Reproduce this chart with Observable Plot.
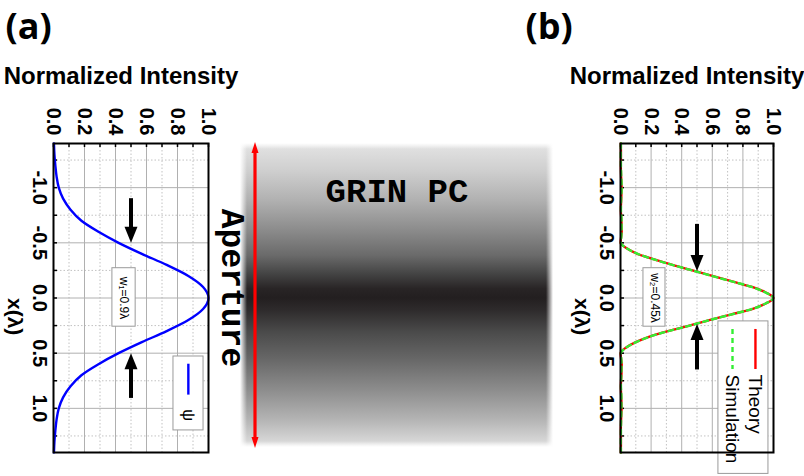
<!DOCTYPE html>
<html><head><meta charset="utf-8">
<script src="https://cdn.jsdelivr.net/npm/d3@7"></script>
<script src="https://cdn.jsdelivr.net/npm/@observablehq/plot@0.6"></script>
<style>
body{margin:0;background:#fff;}
#fig{position:relative;width:804px;height:476px;overflow:hidden;background:#fff;}
#fig > *{position:absolute;left:0;top:0;}
</style></head><body><div id="fig"></div>
<script>
// ---- data ----
const positionA = [-1.4,-1.3,-1.2,-1.1,-1.0,-0.9,-0.8,-0.7,-0.6,-0.5,-0.4,-0.3,-0.2,-0.1,0,0.1,0.2,0.3,0.4,0.5,0.6,0.7,0.8,0.9,1.0,1.1,1.2,1.3,1.4];
const intensityA = [0.003,0.006,0.012,0.02,0.034,0.062,0.11,0.18,0.29,0.42,0.57,0.73,0.87,0.965,1.0,0.965,0.87,0.73,0.57,0.42,0.29,0.18,0.11,0.062,0.034,0.02,0.012,0.006,0.003];

const positionB = [-1.4,-1.3,-1.2,-1.1,-1.0,-0.9,-0.8,-0.7,-0.6,-0.55,-0.5,-0.45,-0.4,-0.35,-0.3,-0.25,-0.2,-0.15,-0.1,-0.05,0,0.05,0.1,0.15,0.2,0.25,0.3,0.35,0.4,0.45,0.5,0.55,0.6,0.7,0.8,0.9,1.0,1.1,1.2,1.3,1.4];
const theoryB = [0.002,0.003,0.002,0.004,0.007,0.005,0.002,0.006,0.008,0.004,0.0,0.04,0.11,0.22,0.34,0.47,0.60,0.73,0.86,0.95,1.0,0.95,0.86,0.72,0.58,0.45,0.31,0.19,0.10,0.035,0.0,0.004,0.008,0.006,0.002,0.005,0.007,0.004,0.002,0.003,0.002];
const simulationB = [0.003,0.002,0.003,0.005,0.008,0.004,0.003,0.007,0.007,0.005,0.002,0.042,0.112,0.218,0.338,0.468,0.598,0.728,0.858,0.948,0.998,0.948,0.858,0.722,0.582,0.452,0.312,0.192,0.102,0.037,0.002,0.005,0.007,0.005,0.003,0.006,0.006,0.004,0.003,0.002,0.003];

const intensityTicks = [0, 0.2, 0.4, 0.6, 0.8, 1.0];
const intensityMinor = [0.1, 0.3, 0.5, 0.7, 0.9];
const positionTicks = [-1.0, -0.5, 0, 0.5, 1.0];
const positionMinor = [-1.25, -0.75, -0.25, 0.25, 0.75, 1.25];

const arrowsA = [{x: 0.5, from: -0.9, to: -0.58, tip: -0.5, dir: "down"}, {x: 0.5, from: 0.91, to: 0.58, tip: 0.5, dir: "up"}];
const arrowsB = [{x: 0.5, from: -0.667, to: -0.33, tip: -0.245, dir: "down"}, {x: 0.5, from: 0.652, to: 0.32, tip: 0.235, dir: "up"}];
const boxA = {x1: 0.38, x2: 0.53, y1: -0.27, y2: 0.26, label: "w\u2081=0.9\u03bb", lx: 0.455};
const boxB = {x1: 0.15, x2: 0.294, y1: -0.27, y2: 0.26, label: "w\u2082=0.45\u03bb", lx: 0.222};

const gradientStops = [[0, "#e4e4e4"], [9, "#cfcfcf"], [19, "#b0b0b0"], [29, "#8a8a8a"], [37, "#6a6a6a"], [43, "#444"], [48, "#282425"], [51, "#231f20"], [55, "#2e2b2c"], [62, "#4a4a4a"], [71, "#676767"], [81, "#8c8c8c"], [91, "#b4b4b4"], [100, "#e0e0e0"]];

// ---- drawing ----
const fig = document.getElementById("fig");
const FT = 143, FB = 452;

// center GRIN PC picture
const grad = document.createElement("div");
Object.assign(grad.style, {left: "240px", top: "143px", width: "313px", height: "304px",
  background: `linear-gradient(to bottom, ${gradientStops.map(([p, c]) => `${c} ${p}%`).join(", ")})`});
fig.appendChild(grad);
const fadeH = document.createElement("div");
Object.assign(fadeH.style, {left: "240px", top: "143px", width: "313px", height: "304px",
  background: "linear-gradient(to right, #fff, rgba(255,255,255,0) 7px, rgba(255,255,255,0) calc(100% - 7px), #fff)"});
fig.appendChild(fadeH);
const fadeV = document.createElement("div");
Object.assign(fadeV.style, {left: "240px", top: "143px", width: "313px", height: "304px",
  background: "linear-gradient(to bottom, #fff, rgba(255,255,255,0) 6px, rgba(255,255,255,0) calc(100% - 6px), #fff)"});
fig.appendChild(fadeV);

const ns = "http://www.w3.org/2000/svg";
const center = document.createElementNS(ns, "svg");
center.setAttribute("width", 804); center.setAttribute("height", 476);
center.innerHTML = `
  <line x1="255" y1="150" x2="255" y2="440" stroke="#ff0000" stroke-width="3.2"/>
  <polygon points="255,142 251.5,153 258.5,153" fill="#ff0000"/>
  <polygon points="255,448 251.5,437 258.5,437" fill="#ff0000"/>
  <text x="397" y="193" text-anchor="middle" dominant-baseline="central" font-family="Liberation Mono, Courier New, monospace" font-weight="bold" font-size="34">GRIN PC</text>
  <text transform="translate(230,288) rotate(90)" text-anchor="middle" dominant-baseline="central" font-family="Liberation Mono, Courier New, monospace" font-weight="bold" font-size="33">Aperture</text>`;
fig.appendChild(center);

const arrowHead = {draw(ctx) { ctx.moveTo(0, 0); ctx.lineTo(6.5, 16); ctx.lineTo(-6.5, 16); ctx.closePath(); }};
const fmt = d => d.toFixed(1);

function panel({left, right, letter, curves, arrows, box, legend}) {
  const fw = right - left, fh = FB - FT;
  return Plot.plot({
    width: 804, height: 476,
    marginLeft: left, marginRight: 804 - right, marginTop: FT, marginBottom: 476 - FB,
    x: {domain: [0, 1], axis: null},
    y: {domain: [-1.4, 1.4], reverse: true, axis: null},
    style: {background: "transparent", overflow: "visible", fontFamily: "Liberation Sans, Arial, sans-serif", color: "black"},
    marks: [
      Plot.gridX(intensityMinor, {stroke: "#c2c2c2", strokeOpacity: 1, strokeDasharray: "1.5,2"}),
      Plot.gridY(positionMinor, {stroke: "#c2c2c2", strokeOpacity: 1, strokeDasharray: "1.5,2"}),
      Plot.gridX(intensityTicks.slice(1, -1), {stroke: "#b0b0b0", strokeOpacity: 1}),
      Plot.gridY(positionTicks, {stroke: "#b0b0b0", strokeOpacity: 1}),
      Plot.tickX([...intensityTicks, ...intensityMinor], {x: d => d, insetBottom: fh - 4, stroke: "black", strokeWidth: 1.5}),
      Plot.tickY([...positionTicks, ...positionMinor], {y: d => d, insetRight: fw - 4, stroke: "black", strokeWidth: 1.5}),
      Plot.axisX({anchor: "top", ticks: intensityTicks, tickFormat: fmt, tickRotate: 90, textAnchor: "end", tickSize: 0, tickPadding: 8, fontSize: 20, fontWeight: "bold", label: null}),
      Plot.axisY({anchor: "left", ticks: positionTicks, tickFormat: fmt, tickRotate: 90, tickSize: 0, tickPadding: 6, fontSize: 20, fontWeight: "bold", label: null}),
      ...curves,
      Plot.rect([box], {x1: "x1", x2: "x2", y1: "y1", y2: "y2", fill: "white", stroke: "#9a9a9a", strokeWidth: 1}),
      Plot.text([box], {x: "lx", y: 0, text: "label", rotate: 90, fontSize: 12}),
      Plot.ruleX(arrows, {x: "x", y1: "from", y2: "to", stroke: "black", strokeWidth: 4}),
      Plot.dot(arrows, {x: "x", y: "tip", symbol: arrowHead, rotate: d => d.dir === "down" ? 180 : 0, fill: "black", stroke: "none"}),
      ...legend,
      Plot.frame({stroke: "black", strokeWidth: 2}),
      Plot.text(["Normalized Intensity"], {frameAnchor: "top", dx: -10, dy: -67, lineAnchor: "middle", text: d => d, fontSize: 24, fontWeight: "bold"}),
      Plot.text(["x(\u03bb)"], {frameAnchor: "left", dx: -39, text: d => d, rotate: 90, fontSize: 21, fontWeight: "bold"}),
      Plot.text([letter.text], {frameAnchor: "top-left", dx: letter.dx, dy: -116, lineAnchor: "middle", text: d => d, textAnchor: "start", fontSize: 36, fontWeight: "bold", fontFamily: "Open Sans, sans-serif"})
    ]
  });
}

const dataA = positionA.map((p, i) => ({p, v: intensityA[i]}));
const dataBt = positionB.map((p, i) => ({p, v: theoryB[i]}));
const dataBs = positionB.map((p, i) => ({p, v: simulationB[i]}));

const plotA = panel({
  left: 53, right: 208, letter: {text: "(a)", dx: -48},
  curves: [Plot.line(dataA, {x: "v", y: "p", curve: "monotone-y", stroke: "#0000ff", strokeWidth: 2.4})],
  arrows: arrowsA, box: boxA,
  legend: [
    Plot.rect([{x1: 0.774, x2: 0.968, y1: 0.53, y2: 1.2}], {x1: "x1", x2: "x2", y1: "y1", y2: "y2", fill: "white", stroke: "#9a9a9a"}),
    Plot.ruleX([{x: 0.87, y1: 0.6, y2: 0.88}], {x: "x", y1: "y1", y2: "y2", stroke: "#0000ff", strokeWidth: 2.4}),
    Plot.text(["\u03c8"], {x: 0.87, y: 1.06, text: d => d, rotate: 90, fontSize: 17})
  ]
});
const plotB = panel({
  left: 620, right: 773, letter: {text: "(b)", dx: -95},
  curves: [
    Plot.line(dataBt, {x: "v", y: "p", curve: "monotone-y", stroke: "#ff0000", strokeWidth: 2.4}),
    Plot.line(dataBs, {x: "v", y: "p", curve: "monotone-y", stroke: "#33ee33", strokeWidth: 2.4, strokeDasharray: "5,4"})
  ],
  arrows: arrowsB, box: boxB,
  legend: [
    Plot.rect([{x1: 0.64, x2: 0.967, y1: 0.212, y2: 1.594}], {x1: "x1", x2: "x2", y1: "y1", y2: "y2", fill: "white", stroke: "#9a9a9a"}),
    Plot.ruleX([{x: 0.882, y1: 0.285, y2: 0.648}], {x: "x", y1: "y1", y2: "y2", stroke: "#ff0000", strokeWidth: 2.4}),
    Plot.ruleX([{x: 0.732, y1: 0.285, y2: 0.648}], {x: "x", y1: "y1", y2: "y2", stroke: "#33ee33", strokeWidth: 2.4, strokeDasharray: "5,4"}),
    Plot.text(["Theory"], {x: 0.882, y: 0.694, text: d => d, rotate: 90, textAnchor: "start", fontSize: 19}),
    Plot.text(["Simulation"], {x: 0.732, y: 0.694, text: d => d, rotate: 90, textAnchor: "start", fontSize: 19})
  ]
});
fig.appendChild(plotA);
fig.appendChild(plotB);
</script></body></html>
